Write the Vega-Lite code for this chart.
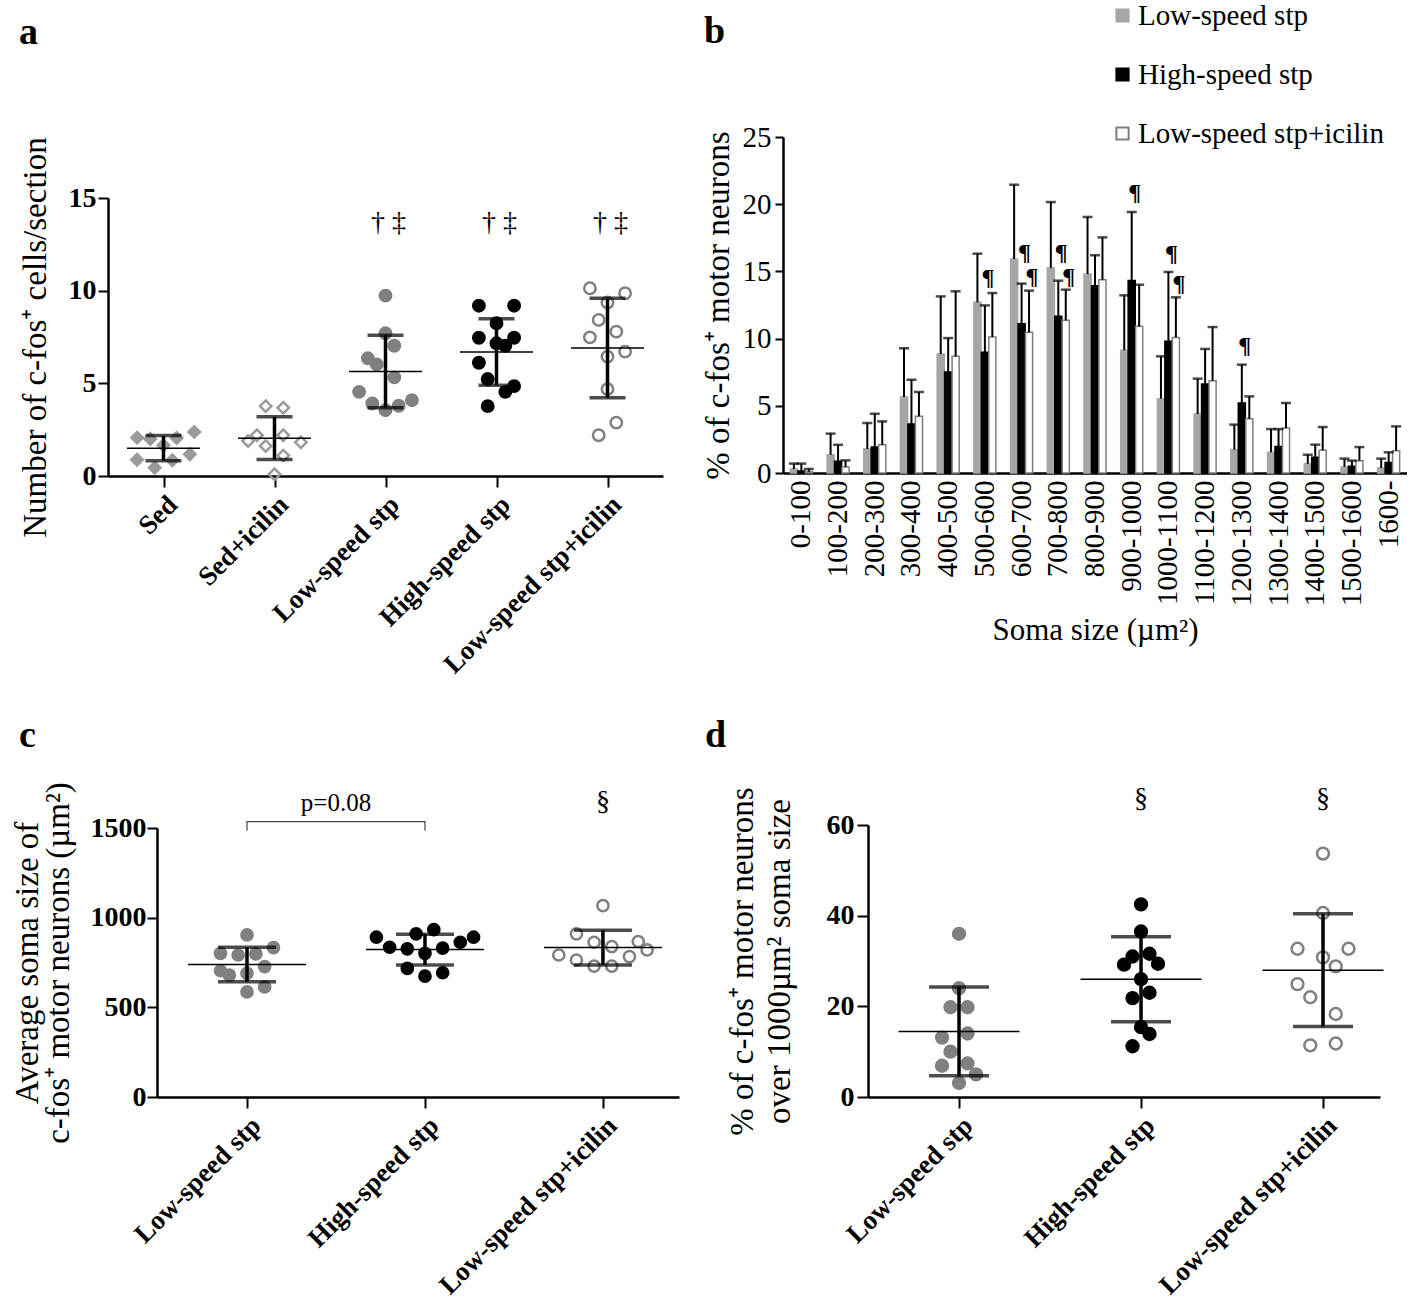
{
  "$schema": "https://vega.github.io/schema/vega-lite/v6.json",
  "background": "white",
  "padding": {"left": 11, "top": 1, "right": 0, "bottom": 0},
  "config": {
    "font": "Liberation Serif",
    "view": {"stroke": null},
    "axis": {"domainColor": "black", "tickColor": "black", "labelColor": "black", "titleColor": "black", "domainWidth": 2.5, "tickWidth": 2, "grid": false, "labelFont": "Liberation Serif", "titleFont": "Liberation Serif", "titleFontWeight": "normal", "labelLimit": 600},
    "title": {"font": "Liberation Serif", "fontSize": 38, "fontWeight": "bold", "anchor": "start", "frame": "group", "baseline": "alphabetic", "color": "black"},
    "text": {"font": "Liberation Serif", "color": "black"}
  },
  "bounds": "flush",
  "spacing": 688,
  "resolve": {"scale": {"fill": "independent", "stroke": "independent", "shape": "independent", "xOffset": "independent"}, "legend": {"fill": "independent", "stroke": "independent", "shape": "independent"}},
  "vconcat": [
    {
      "bounds": "flush",
      "spacing": 120,
      "resolve": {"scale": {"fill": "independent", "stroke": "independent", "shape": "independent", "xOffset": "independent"}, "legend": {"fill": "independent", "stroke": "independent", "shape": "independent"}},
      "hconcat": [
        {
          "width": 555,
          "height": 339,
          "title": {"text": "a", "dx": -89, "offset": 85},
          "data": {"values": [
            {"group": "Sed", "value": 2.07, "slot": -6},
            {"group": "Sed", "value": 2.0, "slot": -3},
            {"group": "Sed", "value": 2.05, "slot": 3},
            {"group": "Sed", "value": 2.38, "slot": 7},
            {"group": "Sed", "value": 0.88, "slot": -6},
            {"group": "Sed", "value": 0.45, "slot": -2},
            {"group": "Sed", "value": 0.85, "slot": 2},
            {"group": "Sed", "value": 1.17, "slot": 6},
            {"group": "Sed", "value": 1.66, "slot": 0},
            {"group": "Sed+icilin", "value": 3.77, "slot": -2},
            {"group": "Sed+icilin", "value": 3.68, "slot": 2},
            {"group": "Sed+icilin", "value": 2.2, "slot": -4},
            {"group": "Sed+icilin", "value": 1.89, "slot": -6},
            {"group": "Sed+icilin", "value": 2.2, "slot": 2},
            {"group": "Sed+icilin", "value": 1.82, "slot": 6},
            {"group": "Sed+icilin", "value": 1.62, "slot": -2},
            {"group": "Sed+icilin", "value": 1.1, "slot": 2},
            {"group": "Sed+icilin", "value": 0.09, "slot": 0},
            {"group": "Low-speed stp", "value": 9.73, "slot": 0},
            {"group": "Low-speed stp", "value": 7.7, "slot": 0},
            {"group": "Low-speed stp", "value": 7.03, "slot": 2},
            {"group": "Low-speed stp", "value": 6.35, "slot": -4},
            {"group": "Low-speed stp", "value": 6.02, "slot": -2},
            {"group": "Low-speed stp", "value": 5.32, "slot": 2},
            {"group": "Low-speed stp", "value": 4.54, "slot": -6},
            {"group": "Low-speed stp", "value": 3.91, "slot": -3},
            {"group": "Low-speed stp", "value": 3.79, "slot": 3},
            {"group": "Low-speed stp", "value": 4.09, "slot": 6},
            {"group": "Low-speed stp", "value": 3.55, "slot": 0},
            {"group": "High-speed stp", "value": 9.19, "slot": -4},
            {"group": "High-speed stp", "value": 9.19, "slot": 4},
            {"group": "High-speed stp", "value": 8.24, "slot": 0},
            {"group": "High-speed stp", "value": 7.46, "slot": -4},
            {"group": "High-speed stp", "value": 7.46, "slot": 4},
            {"group": "High-speed stp", "value": 7.16, "slot": 0},
            {"group": "High-speed stp", "value": 7.03, "slot": 2},
            {"group": "High-speed stp", "value": 6.11, "slot": -4},
            {"group": "High-speed stp", "value": 5.23, "slot": -2},
            {"group": "High-speed stp", "value": 4.85, "slot": 4},
            {"group": "High-speed stp", "value": 4.54, "slot": 2},
            {"group": "High-speed stp", "value": 3.77, "slot": -2},
            {"group": "Low-speed stp+icilin", "value": 10.13, "slot": -4},
            {"group": "Low-speed stp+icilin", "value": 9.86, "slot": 4},
            {"group": "Low-speed stp+icilin", "value": 9.36, "slot": 0},
            {"group": "Low-speed stp+icilin", "value": 8.42, "slot": -2},
            {"group": "Low-speed stp+icilin", "value": 7.48, "slot": -4},
            {"group": "Low-speed stp+icilin", "value": 7.79, "slot": 2},
            {"group": "Low-speed stp+icilin", "value": 6.71, "slot": 4},
            {"group": "Low-speed stp+icilin", "value": 6.44, "slot": 0},
            {"group": "Low-speed stp+icilin", "value": 4.69, "slot": 0},
            {"group": "Low-speed stp+icilin", "value": 2.88, "slot": 2},
            {"group": "Low-speed stp+icilin", "value": 2.2, "slot": -2}
          ]},
          "encoding": {
            "x": {"field": "group", "type": "nominal", "sort": ["Sed", "Sed+icilin", "Low-speed stp", "High-speed stp", "Low-speed stp+icilin"], "scale": {"type": "point", "padding": 0.5}, "axis": {"title": null, "labelAngle": -45, "labelFontSize": 27, "labelFontWeight": "bold", "tickSize": 11, "labelPadding": 4}},
            "y": {"field": "value", "type": "quantitative", "scale": {"domain": [0, 15], "range": [339, 61], "nice": false, "zero": false}, "axis": {"title": "Number of c-fos⁺ cells/section", "values": [0, 5, 10, 15], "labelFontSize": 28, "labelFontWeight": "bold", "tickSize": 10, "labelPadding": 2, "titleFontSize": 33, "titlePadding": 16}}
          },
          "layer": [
            {
              "mark": {"type": "point", "filled": true, "size": 130, "strokeWidth": 2.5, "opacity": 1},
              "encoding": {
                "xOffset": {"field": "slot", "type": "quantitative", "scale": {"domain": [-10, 10], "range": [-44, 44]}},
                "fill": {"field": "group", "type": "nominal", "scale": {"domain": ["Sed", "Sed+icilin", "Low-speed stp", "High-speed stp", "Low-speed stp+icilin"], "range": ["#9a9a9a", "transparent", "#808080", "#000000", "transparent"]}, "legend": null},
                "stroke": {"field": "group", "type": "nominal", "scale": {"domain": ["Sed", "Sed+icilin", "Low-speed stp", "High-speed stp", "Low-speed stp+icilin"], "range": ["#9a9a9a", "#9a9a9a", "#808080", "#000000", "#808080"]}, "legend": null},
                "shape": {"field": "group", "type": "nominal", "scale": {"domain": ["Sed", "Sed+icilin", "Low-speed stp", "High-speed stp", "Low-speed stp+icilin"], "range": ["diamond", "diamond", "circle", "circle", "circle"]}, "legend": null}
              }
            },
            {
              "mark": {"type": "tick", "size": 73, "thickness": 1.5, "color": "black"},
              "encoding": {
                "y": {"aggregate": "mean", "field": "value", "type": "quantitative", "axis": {"title": "Number of c-fos⁺ cells/section", "values": [0, 5, 10, 15], "labelFontSize": 28, "labelFontWeight": "bold", "tickSize": 10, "labelPadding": 2, "titleFontSize": 33, "titlePadding": 16}}
              }
            },
            {
              "mark": {"type": "errorbar", "extent": "stdev", "ticks": true, "size": 36, "thickness": 3.5, "color": "black"},
              "encoding": {}
            },
            {
              "data": {"values": [
                {"group": "Low-speed stp", "value": 13.65, "label": "† ‡"},
                {"group": "High-speed stp", "value": 13.65, "label": "† ‡"},
                {"group": "Low-speed stp+icilin", "value": 13.65, "label": "† ‡"}
              ]},
              "mark": {"type": "text", "fontSize": 28, "baseline": "middle", "dx": 3},
              "encoding": {"text": {"field": "label"}}
            }
          ]
        },
        {
          "width": 624,
          "height": 336,
          "title": {"text": "b", "dx": -79, "offset": -50},
          "data": {"values": [
            {"bin": "0-100", "series": "Low-speed stp", "mean": 0.3, "upper": 0.7},
            {"bin": "0-100", "series": "High-speed stp", "mean": 0.15, "upper": 0.7},
            {"bin": "0-100", "series": "Low-speed stp+icilin", "mean": 0.1, "upper": 0.3},
            {"bin": "100-200", "series": "Low-speed stp", "mean": 1.36, "upper": 2.93},
            {"bin": "100-200", "series": "High-speed stp", "mean": 0.87, "upper": 2.1},
            {"bin": "100-200", "series": "Low-speed stp+icilin", "mean": 0.45, "upper": 0.94},
            {"bin": "200-300", "series": "Low-speed stp", "mean": 1.79, "upper": 3.72},
            {"bin": "200-300", "series": "High-speed stp", "mean": 1.93, "upper": 4.41},
            {"bin": "200-300", "series": "Low-speed stp+icilin", "mean": 2.1, "upper": 3.84},
            {"bin": "300-400", "series": "Low-speed stp", "mean": 5.65, "upper": 9.28},
            {"bin": "300-400", "series": "High-speed stp", "mean": 3.65, "upper": 6.94},
            {"bin": "300-400", "series": "Low-speed stp+icilin", "mean": 4.22, "upper": 6.03},
            {"bin": "400-500", "series": "Low-speed stp", "mean": 8.85, "upper": 13.14},
            {"bin": "400-500", "series": "High-speed stp", "mean": 7.51, "upper": 10.04},
            {"bin": "400-500", "series": "Low-speed stp+icilin", "mean": 8.68, "upper": 13.52},
            {"bin": "500-600", "series": "Low-speed stp", "mean": 12.7, "upper": 16.32},
            {"bin": "500-600", "series": "High-speed stp", "mean": 8.98, "upper": 12.47},
            {"bin": "500-600", "series": "Low-speed stp+icilin", "mean": 10.12, "upper": 13.39},
            {"bin": "600-700", "series": "Low-speed stp", "mean": 15.92, "upper": 21.45},
            {"bin": "600-700", "series": "High-speed stp", "mean": 11.11, "upper": 14.09},
            {"bin": "600-700", "series": "Low-speed stp+icilin", "mean": 10.47, "upper": 13.57},
            {"bin": "700-800", "series": "Low-speed stp", "mean": 15.25, "upper": 20.16},
            {"bin": "700-800", "series": "High-speed stp", "mean": 11.66, "upper": 14.31},
            {"bin": "700-800", "series": "Low-speed stp+icilin", "mean": 11.36, "upper": 13.64},
            {"bin": "800-900", "series": "Low-speed stp", "mean": 14.81, "upper": 19.05},
            {"bin": "800-900", "series": "High-speed stp", "mean": 13.94, "upper": 16.2},
            {"bin": "800-900", "series": "Low-speed stp+icilin", "mean": 14.38, "upper": 17.53},
            {"bin": "900-1000", "series": "Low-speed stp", "mean": 9.13, "upper": 13.22},
            {"bin": "900-1000", "series": "High-speed stp", "mean": 14.33, "upper": 19.42},
            {"bin": "900-1000", "series": "Low-speed stp+icilin", "mean": 10.91, "upper": 14.01},
            {"bin": "1000-1100", "series": "Low-speed stp", "mean": 5.53, "upper": 8.68},
            {"bin": "1000-1100", "series": "High-speed stp", "mean": 9.8, "upper": 14.96},
            {"bin": "1000-1100", "series": "Low-speed stp+icilin", "mean": 10.09, "upper": 13.07},
            {"bin": "1100-1200", "series": "Low-speed stp", "mean": 4.39, "upper": 7.02},
            {"bin": "1100-1200", "series": "High-speed stp", "mean": 6.62, "upper": 9.23},
            {"bin": "1100-1200", "series": "Low-speed stp+icilin", "mean": 6.87, "upper": 10.86},
            {"bin": "1200-1300", "series": "Low-speed stp", "mean": 1.74, "upper": 3.6},
            {"bin": "1200-1300", "series": "High-speed stp", "mean": 5.21, "upper": 8.06},
            {"bin": "1200-1300", "series": "Low-speed stp+icilin", "mean": 4.04, "upper": 5.7},
            {"bin": "1300-1400", "series": "Low-speed stp", "mean": 1.54, "upper": 3.27},
            {"bin": "1300-1400", "series": "High-speed stp", "mean": 1.98, "upper": 3.27},
            {"bin": "1300-1400", "series": "Low-speed stp+icilin", "mean": 3.35, "upper": 5.21},
            {"bin": "1400-1500", "series": "Low-speed stp", "mean": 0.69, "upper": 1.36},
            {"bin": "1400-1500", "series": "High-speed stp", "mean": 1.17, "upper": 2.11},
            {"bin": "1400-1500", "series": "Low-speed stp+icilin", "mean": 1.69, "upper": 3.42},
            {"bin": "1500-1600", "series": "Low-speed stp", "mean": 0.45, "upper": 1.07},
            {"bin": "1500-1600", "series": "High-speed stp", "mean": 0.5, "upper": 0.92},
            {"bin": "1500-1600", "series": "Low-speed stp+icilin", "mean": 0.92, "upper": 1.93},
            {"bin": "1600-", "series": "Low-speed stp", "mean": 0.37, "upper": 1.07},
            {"bin": "1600-", "series": "High-speed stp", "mean": 0.79, "upper": 1.54},
            {"bin": "1600-", "series": "Low-speed stp+icilin", "mean": 1.66, "upper": 3.47}
          ]},
          "encoding": {
            "x": {"field": "bin", "type": "nominal", "sort": ["0-100", "100-200", "200-300", "300-400", "400-500", "500-600", "600-700", "700-800", "800-900", "900-1000", "1000-1100", "1100-1200", "1200-1300", "1300-1400", "1400-1500", "1500-1600", "1600-"], "scale": {"paddingInner": 0.4, "paddingOuter": 0.2}, "axis": {"title": "Soma size (µm²)", "labelAngle": -90, "labelFontSize": 29, "ticks": false, "labelPadding": 7, "titleFontSize": 31, "titlePadding": 10}},
            "xOffset": {"field": "series", "type": "nominal", "sort": ["Low-speed stp", "High-speed stp", "Low-speed stp+icilin"], "scale": {"paddingInner": 0.05}},
            "y": {"field": "mean", "type": "quantitative", "scale": {"domain": [0, 25], "nice": false}, "axis": {"title": "% of c-fos⁺ motor neurons", "values": [0, 5, 10, 15, 20, 25], "labelFontSize": 29, "tickSize": 8, "labelPadding": 4, "titleFontSize": 33, "titlePadding": 7}}
          },
          "layer": [
            {
              "mark": {"type": "bar", "strokeWidth": 1.5},
              "encoding": {
                "fill": {"field": "series", "type": "nominal", "scale": {"domain": ["Low-speed stp", "High-speed stp", "Low-speed stp+icilin"], "range": ["#a6a6a6", "#000000", "#ffffff"]}, "legend": {"title": null, "orient": "none", "legendX": 325, "legendY": -136, "symbolType": "square", "symbolSize": 150, "symbolStrokeWidth": 2, "labelFontSize": 29, "labelFont": "Liberation Serif", "labelColor": "black", "rowPadding": 29, "labelOffset": 1, "padding": 0, "labelLimit": 500}},
                "stroke": {"field": "series", "type": "nominal", "scale": {"domain": ["Low-speed stp", "High-speed stp", "Low-speed stp+icilin"], "range": ["#a6a6a6", "#000000", "#7f7f7f"]}, "legend": {"title": null, "orient": "none", "legendX": 325, "legendY": -136, "symbolType": "square", "symbolSize": 150, "symbolStrokeWidth": 2, "labelFontSize": 29, "labelFont": "Liberation Serif", "labelColor": "black", "rowPadding": 29, "labelOffset": 1, "padding": 0, "labelLimit": 500}}
              }
            },
            {
              "mark": {"type": "rule", "strokeWidth": 2, "color": "black"},
              "encoding": {"y2": {"field": "upper"}}
            },
            {
              "mark": {"type": "tick", "size": 10, "thickness": 2.5, "color": "black"},
              "encoding": {
                "y": {"field": "upper", "type": "quantitative", "axis": {"title": "% of c-fos⁺ motor neurons", "values": [0, 5, 10, 15, 20, 25], "labelFontSize": 29, "tickSize": 8, "labelPadding": 4, "titleFontSize": 33, "titlePadding": 7}}
              }
            },
            {
              "data": {"values": [
                {"bin": "500-600", "series": "High-speed stp", "mean": 14.5, "label": "¶"},
                {"bin": "600-700", "series": "High-speed stp", "mean": 16.4, "label": "¶"},
                {"bin": "600-700", "series": "Low-speed stp+icilin", "mean": 14.6, "label": "¶"},
                {"bin": "700-800", "series": "High-speed stp", "mean": 16.4, "label": "¶"},
                {"bin": "700-800", "series": "Low-speed stp+icilin", "mean": 14.6, "label": "¶"},
                {"bin": "900-1000", "series": "High-speed stp", "mean": 20.86, "label": "¶"},
                {"bin": "1000-1100", "series": "High-speed stp", "mean": 16.3, "label": "¶"},
                {"bin": "1000-1100", "series": "Low-speed stp+icilin", "mean": 14.06, "label": "¶"},
                {"bin": "1200-1300", "series": "High-speed stp", "mean": 9.42, "label": "¶"}
              ]},
              "mark": {"type": "text", "fontSize": 24, "fontWeight": "bold", "baseline": "middle", "dx": 3},
              "encoding": {"text": {"field": "label"}}
            }
          ]
        }
      ]
    },
    {
      "bounds": "flush",
      "spacing": 189,
      "resolve": {"scale": {"fill": "independent", "stroke": "independent", "shape": "independent", "xOffset": "independent"}, "legend": {"fill": "independent", "stroke": "independent", "shape": "independent"}},
      "hconcat": [
        {
          "width": 571,
          "height": 272,
          "title": {"text": "c", "dx": -89, "offset": 27},
          "data": {"values": [
            {"group": "Low-speed stp", "value": 904, "slot": 0},
            {"group": "Low-speed stp", "value": 801, "slot": -6},
            {"group": "Low-speed stp", "value": 792, "slot": -2},
            {"group": "Low-speed stp", "value": 798, "slot": 2},
            {"group": "Low-speed stp", "value": 833, "slot": 6},
            {"group": "Low-speed stp", "value": 727, "slot": 4},
            {"group": "Low-speed stp", "value": 704, "slot": -6},
            {"group": "Low-speed stp", "value": 680, "slot": -4},
            {"group": "Low-speed stp", "value": 689, "slot": 0},
            {"group": "Low-speed stp", "value": 614, "slot": 4},
            {"group": "Low-speed stp", "value": 586, "slot": 0},
            {"group": "High-speed stp", "value": 891, "slot": -11},
            {"group": "High-speed stp", "value": 891, "slot": 11},
            {"group": "High-speed stp", "value": 910, "slot": -2},
            {"group": "High-speed stp", "value": 933, "slot": 2},
            {"group": "High-speed stp", "value": 835, "slot": -8},
            {"group": "High-speed stp", "value": 826, "slot": -4},
            {"group": "High-speed stp", "value": 830, "slot": 4},
            {"group": "High-speed stp", "value": 863, "slot": 8},
            {"group": "High-speed stp", "value": 801, "slot": 0},
            {"group": "High-speed stp", "value": 717, "slot": -4},
            {"group": "High-speed stp", "value": 693, "slot": 4},
            {"group": "High-speed stp", "value": 674, "slot": 0},
            {"group": "Low-speed stp+icilin", "value": 1067, "slot": 0},
            {"group": "Low-speed stp+icilin", "value": 910, "slot": -6},
            {"group": "Low-speed stp+icilin", "value": 863, "slot": -2},
            {"group": "Low-speed stp+icilin", "value": 839, "slot": 2},
            {"group": "Low-speed stp+icilin", "value": 867, "slot": 8},
            {"group": "Low-speed stp+icilin", "value": 820, "slot": 10},
            {"group": "Low-speed stp+icilin", "value": 792, "slot": -10},
            {"group": "Low-speed stp+icilin", "value": 764, "slot": -6},
            {"group": "Low-speed stp+icilin", "value": 783, "slot": 6},
            {"group": "Low-speed stp+icilin", "value": 730, "slot": -2},
            {"group": "Low-speed stp+icilin", "value": 730, "slot": 2}
          ]},
          "encoding": {
            "x": {"field": "group", "type": "nominal", "sort": ["Low-speed stp", "High-speed stp", "Low-speed stp+icilin"], "scale": {"type": "point", "padding": 0.4665, "align": 0.542, "range": [49, 571]}, "axis": {"title": null, "labelAngle": -45, "labelFontSize": 27, "labelFontWeight": "bold", "tickSize": 11, "labelPadding": 4}},
            "y": {"field": "value", "type": "quantitative", "scale": {"domain": [0, 1500], "range": [272, 3], "nice": false, "zero": false}, "axis": {"offset": -49, "format": "d", "title": ["Average soma size of", "c-fos⁺ motor neurons (µm²)"], "titleLineHeight": 31, "values": [0, 500, 1000, 1500], "labelFontSize": 28, "labelFontWeight": "bold", "tickSize": 10, "labelPadding": 1, "titleFontSize": 33, "titlePadding": 15}}
          },
          "layer": [
            {
              "mark": {"type": "point", "filled": true, "size": 125, "strokeWidth": 2.5, "opacity": 1},
              "encoding": {
                "xOffset": {"field": "slot", "type": "quantitative", "scale": {"domain": [-12, 12], "range": [-53, 53]}},
                "fill": {"field": "group", "type": "nominal", "scale": {"domain": ["Low-speed stp", "High-speed stp", "Low-speed stp+icilin"], "range": ["#808080", "#000000", "transparent"]}, "legend": null},
                "stroke": {"field": "group", "type": "nominal", "scale": {"domain": ["Low-speed stp", "High-speed stp", "Low-speed stp+icilin"], "range": ["#808080", "#000000", "#808080"]}, "legend": null}
              }
            },
            {
              "mark": {"type": "tick", "size": 118, "thickness": 1.5, "color": "black"},
              "encoding": {
                "y": {"aggregate": "mean", "field": "value", "type": "quantitative", "axis": {"offset": -49, "format": "d", "title": ["Average soma size of", "c-fos⁺ motor neurons (µm²)"], "titleLineHeight": 31, "values": [0, 500, 1000, 1500], "labelFontSize": 28, "labelFontWeight": "bold", "tickSize": 10, "labelPadding": 1, "titleFontSize": 33, "titlePadding": 15}}
              }
            },
            {
              "mark": {"type": "errorbar", "extent": "stdev", "ticks": true, "size": 58, "thickness": 3.5, "color": "black"},
              "encoding": {}
            },
            {
              "data": {"values": [
                {"group": "Low-speed stp", "value": 1485, "k": 1},
                {"group": "Low-speed stp", "value": 1535, "k": 2},
                {"group": "High-speed stp", "value": 1535, "k": 3},
                {"group": "High-speed stp", "value": 1485, "k": 4}
              ]},
              "mark": {"type": "line", "strokeWidth": 1.2, "color": "#444444"},
              "encoding": {"order": {"field": "k", "type": "quantitative"}}
            },
            {
              "data": {"values": [
                {"group": "Low-speed stp", "value": 1640, "label": "p=0.08"}
              ]},
              "mark": {"type": "text", "fontSize": 25, "baseline": "middle", "dx": 89},
              "encoding": {"text": {"field": "label"}}
            },
            {
              "data": {"values": [
                {"group": "Low-speed stp+icilin", "value": 1646, "label": "§"}
              ]},
              "mark": {"type": "text", "fontSize": 28, "baseline": "middle"},
              "encoding": {"text": {"field": "label"}}
            }
          ]
        },
        {
          "width": 512,
          "height": 272,
          "title": {"text": "d", "dx": -163, "offset": 30},
          "data": {"values": [
            {"group": "Low-speed stp", "value": 36.0, "slot": 0},
            {"group": "Low-speed stp", "value": 24.0, "slot": 0},
            {"group": "Low-speed stp", "value": 19.8, "slot": -2},
            {"group": "Low-speed stp", "value": 19.8, "slot": 2},
            {"group": "Low-speed stp", "value": 14.0, "slot": 2},
            {"group": "Low-speed stp", "value": 13.1, "slot": -4},
            {"group": "Low-speed stp", "value": 10.0, "slot": -2},
            {"group": "Low-speed stp", "value": 6.9, "slot": -4},
            {"group": "Low-speed stp", "value": 7.4, "slot": 2},
            {"group": "Low-speed stp", "value": 5.0, "slot": 4},
            {"group": "Low-speed stp", "value": 3.1, "slot": 0},
            {"group": "High-speed stp", "value": 42.5, "slot": 0},
            {"group": "High-speed stp", "value": 36.5, "slot": 0},
            {"group": "High-speed stp", "value": 31.0, "slot": -2},
            {"group": "High-speed stp", "value": 31.6, "slot": 2},
            {"group": "High-speed stp", "value": 29.2, "slot": -4},
            {"group": "High-speed stp", "value": 29.4, "slot": 4},
            {"group": "High-speed stp", "value": 26.0, "slot": 0},
            {"group": "High-speed stp", "value": 23.0, "slot": 2},
            {"group": "High-speed stp", "value": 21.8, "slot": -2},
            {"group": "High-speed stp", "value": 15.4, "slot": 0},
            {"group": "High-speed stp", "value": 13.9, "slot": 2},
            {"group": "High-speed stp", "value": 11.2, "slot": -2},
            {"group": "Low-speed stp+icilin", "value": 53.7, "slot": 0},
            {"group": "Low-speed stp+icilin", "value": 40.6, "slot": 0},
            {"group": "Low-speed stp+icilin", "value": 32.7, "slot": -6},
            {"group": "Low-speed stp+icilin", "value": 32.7, "slot": 6},
            {"group": "Low-speed stp+icilin", "value": 30.8, "slot": 0},
            {"group": "Low-speed stp+icilin", "value": 28.8, "slot": 3},
            {"group": "Low-speed stp+icilin", "value": 24.9, "slot": -6},
            {"group": "Low-speed stp+icilin", "value": 22.0, "slot": -3},
            {"group": "Low-speed stp+icilin", "value": 18.3, "slot": 3},
            {"group": "Low-speed stp+icilin", "value": 11.4, "slot": -3},
            {"group": "Low-speed stp+icilin", "value": 11.8, "slot": 3}
          ]},
          "encoding": {
            "x": {"field": "group", "type": "nominal", "sort": ["Low-speed stp", "High-speed stp", "Low-speed stp+icilin"], "scale": {"type": "point", "padding": 0.4066, "align": 0.615}, "axis": {"title": null, "labelAngle": -45, "labelFontSize": 27, "labelFontWeight": "bold", "tickSize": 11, "labelPadding": 4}},
            "y": {"field": "value", "type": "quantitative", "scale": {"domain": [0, 60], "nice": false, "zero": false}, "axis": {"title": ["% of c-fos⁺ motor neurons", "over 1000µm² soma size"], "titleLineHeight": 37, "values": [0, 20, 40, 60], "labelFontSize": 28, "labelFontWeight": "bold", "tickSize": 11, "labelPadding": 3, "titleFontSize": 33, "titlePadding": 30}}
          },
          "layer": [
            {
              "mark": {"type": "point", "filled": true, "size": 140, "strokeWidth": 2.5, "opacity": 1},
              "encoding": {
                "xOffset": {"field": "slot", "type": "quantitative", "scale": {"domain": [-12, 12], "range": [-51, 51]}},
                "fill": {"field": "group", "type": "nominal", "scale": {"domain": ["Low-speed stp", "High-speed stp", "Low-speed stp+icilin"], "range": ["#808080", "#000000", "transparent"]}, "legend": null},
                "stroke": {"field": "group", "type": "nominal", "scale": {"domain": ["Low-speed stp", "High-speed stp", "Low-speed stp+icilin"], "range": ["#808080", "#000000", "#808080"]}, "legend": null}
              }
            },
            {
              "mark": {"type": "tick", "size": 121, "thickness": 1.5, "color": "black"},
              "encoding": {
                "y": {"aggregate": "mean", "field": "value", "type": "quantitative", "axis": {"title": ["% of c-fos⁺ motor neurons", "over 1000µm² soma size"], "titleLineHeight": 37, "values": [0, 20, 40, 60], "labelFontSize": 28, "labelFontWeight": "bold", "tickSize": 11, "labelPadding": 3, "titleFontSize": 33, "titlePadding": 30}}
              }
            },
            {
              "mark": {"type": "errorbar", "extent": "stdev", "ticks": true, "size": 60, "thickness": 3.5, "color": "black"},
              "encoding": {}
            },
            {
              "data": {"values": [
                {"group": "High-speed stp", "value": 65.8, "label": "§"},
                {"group": "Low-speed stp+icilin", "value": 65.8, "label": "§"}
              ]},
              "mark": {"type": "text", "fontSize": 28, "baseline": "middle"},
              "encoding": {"text": {"field": "label"}}
            }
          ]
        }
      ]
    }
  ]
}
